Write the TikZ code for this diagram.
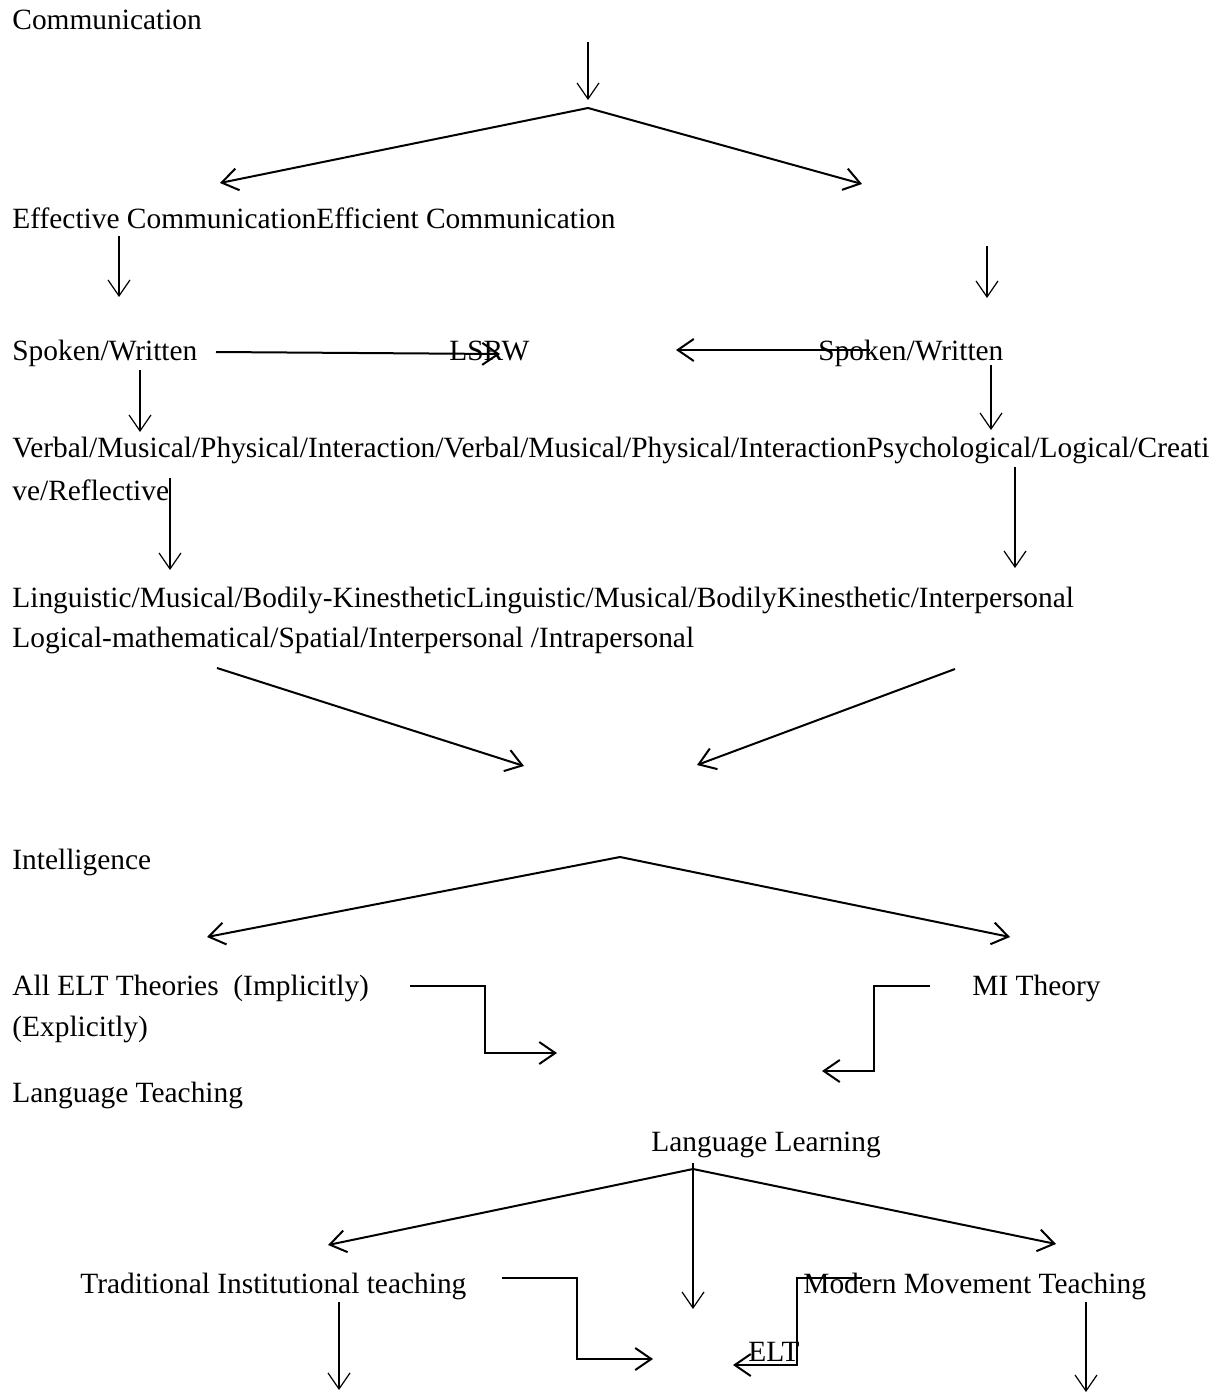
\documentclass[tikz,border=0pt]{standalone}
\usepackage{fontspec}
\setmainfont{Liberation Serif}
\usetikzlibrary{arrows.meta}

\begin{document}
\begin{tikzpicture}[x=0.5pt,y=-0.5pt,font=\fontsize{14.7}{17}\selectfont,>={Straight Barb[length=8pt,width=11pt]},
 txt/.style={anchor=base west,inner sep=0pt},
 thin/.style={->,line width=0.6pt},
 thick/.style={->,line width=1pt}]
\useasboundingbox (0,0) rectangle (1222,1396);
\node[txt] (comm) at (12,30) {Communication};
\node[txt] (effc) at (12,228) {Effective CommunicationEfficient Communication};
\node[txt] (spl) at (12,360) {Spoken/Written};
\node[txt] (lsrw) at (449,360) {LSRW};
\node[txt] (spr) at (818,360) {Spoken/Written};
\node[txt] (verb) at (12,457) {Verbal/Musical/Physical/Interaction/Verbal/Musical/Physical/InteractionPsychological/Logical/Creati};
\node[txt] (refl) at (12,500) {ve/Reflective};
\node[txt] (ling) at (12,607) {Linguistic/Musical/Bodily-KinestheticLinguistic/Musical/BodilyKinesthetic/Interpersonal};
\node[txt] (logm) at (12,647) {Logical-mathematical/Spatial/Interpersonal /Intrapersonal};
\node[txt] (intl) at (12,869) {Intelligence};
\node[txt] (allelt) at (12,995) {All ELT Theories\ \ (Implicitly)};
\node[txt] (expl) at (12,1036) {(Explicitly)};
\node[txt] (mi) at (972,995) {MI Theory};
\node[txt] (lteach) at (12,1102) {Language Teaching};
\node[txt] (llearn) at (651,1151) {Language Learning};
\node[txt] (trad) at (80,1293) {Traditional Institutional teaching};
\node[txt] (modern) at (803,1293) {Modern Movement Teaching};
\node[txt] (elt) at (748,1361) {ELT};
% free ends and junctions
\coordinate (c1) at (588,42); \coordinate (c2) at (588,100); \coordinate (ap1) at (588,108);
\coordinate (ap1l) at (220,183); \coordinate (ap1r) at (862,184);
\coordinate (v1a) at (119,236); \coordinate (v1b) at (119,297);
\coordinate (v2a) at (987,246); \coordinate (v2b) at (987,298);
\coordinate (h1a) at (216,352); \coordinate (h1b) at (500,354);
\coordinate (h2a) at (870,350); \coordinate (h2b) at (676,350);
\coordinate (v3a) at (140,370); \coordinate (v3b) at (140,432);
\coordinate (v4a) at (991,365); \coordinate (v4b) at (991,430);
\coordinate (v5a) at (170,478); \coordinate (v5b) at (170,570);
\coordinate (v6a) at (1015,467); \coordinate (v6b) at (1015,568);
\coordinate (d1a) at (217,668); \coordinate (d1b) at (524,766);
\coordinate (d2a) at (955,669); \coordinate (d2b) at (697,765);
\coordinate (ap2) at (620,857); \coordinate (ap2l) at (207,937); \coordinate (ap2r) at (1010,937);
\coordinate (e1a) at (410,986); \coordinate (e1b) at (485,1053); \coordinate (e1c) at (557,1053);
\coordinate (e2a) at (930,986); \coordinate (e2b) at (874,1071); \coordinate (e2c) at (822,1071);
\coordinate (ap3) at (693,1169); \coordinate (v7a) at (693,1163); \coordinate (v7b) at (693,1309);
\coordinate (ap3l) at (328,1245); \coordinate (ap3r) at (1056,1244);
\coordinate (e3a) at (502,1278); \coordinate (e3b) at (577,1359); \coordinate (e3c) at (653,1359);
\coordinate (e4a) at (862,1278); \coordinate (e4b) at (797,1365); \coordinate (e4c) at (733,1365);
\coordinate (v8a) at (339,1302); \coordinate (v8b) at (339,1390);
\coordinate (v9a) at (1086,1302); \coordinate (v9b) at (1086,1392);
% connectors
\draw[thin] (c1)--(c2);
\draw[thick] (ap1)--(ap1l);
\draw[thick] (ap1)--(ap1r);
\draw[thin] (v1a)--(v1b);
\draw[thin] (v2a)--(v2b);
\draw[thick] (h1a)--(h1b);
\draw[thick] (h2a)--(h2b);
\draw[thin] (v3a)--(v3b);
\draw[thin] (v4a)--(v4b);
\draw[thin] (v5a)--(v5b);
\draw[thin] (v6a)--(v6b);
\draw[thick] (d1a)--(d1b);
\draw[thick] (d2a)--(d2b);
\draw[thick] (ap2)--(ap2l);
\draw[thick] (ap2)--(ap2r);
\draw[thick] (e1a)-|(e1b)--(e1c);
\draw[thick] (e2a)-|(e2b)--(e2c);
\draw[thin] (v7a)--(v7b);
\draw[thick] (ap3)--(ap3l);
\draw[thick] (ap3)--(ap3r);
\draw[thick] (e3a)-|(e3b)--(e3c);
\draw[thick] (e4a)-|(e4b)--(e4c);
\draw[thin] (v8a)--(v8b);
\draw[thin] (v9a)--(v9b);
\end{tikzpicture}
\end{document}
